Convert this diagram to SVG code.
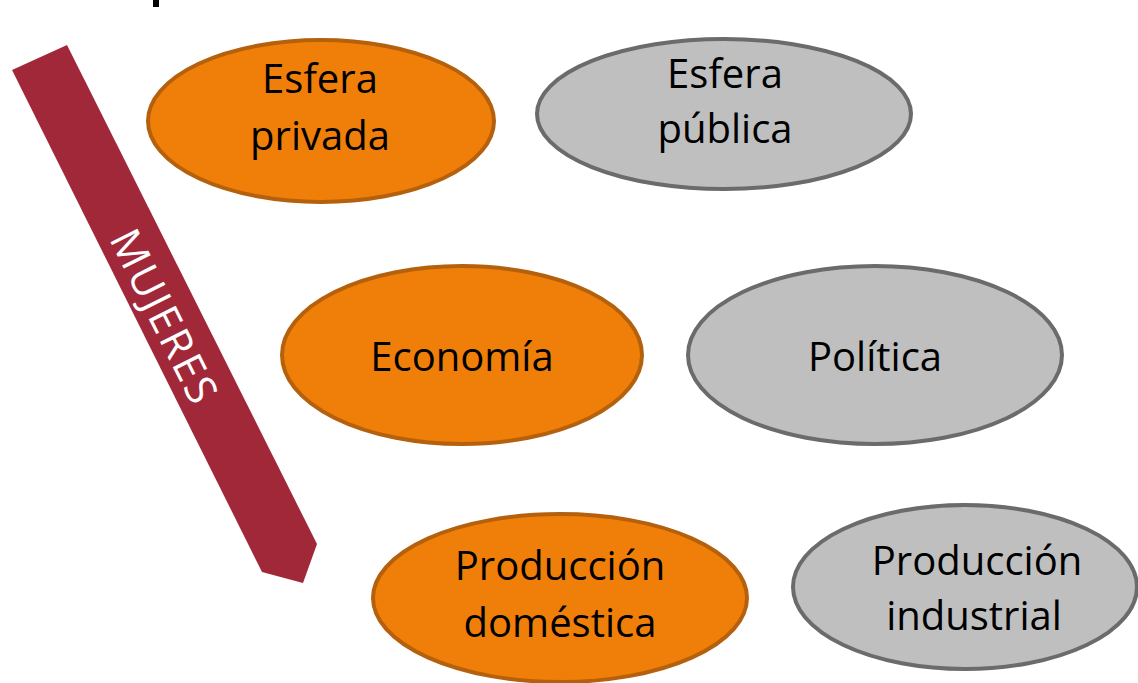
<svg xmlns="http://www.w3.org/2000/svg" width="1138" height="683" viewBox="0 0 1138 683">
<style>
.o{fill:#F07F09;stroke:#B5600C;stroke-width:4}
.g{fill:#BFBFBF;stroke:#6B6B6B;stroke-width:4}
.t{font-family:"Open Sans","Liberation Sans",sans-serif;font-size:40px;fill:#000;text-anchor:middle}
.w{font-family:"Open Sans","Liberation Sans",sans-serif;font-size:42px;fill:#fff;text-anchor:middle}
</style>
<rect width="1138" height="683" fill="#fff"/>
<rect x="153" y="0" width="6" height="7" fill="#000"/>
<g id="mujeres">
<polygon points="12,70 67,45 317,544 303,583 262,572" fill="#A12839"/>
<text class="w" transform="translate(164,316) rotate(63.5)" y="15" textLength="188" lengthAdjust="spacing">MUJERES</text>
</g>
<g id="esfera-privada">
<ellipse class="o" cx="321" cy="121" rx="173" ry="81"/>
<text class="t" x="320" y="93">Esfera</text>
<text class="t" x="320" y="150">privada</text>
</g>
<g id="esfera-publica">
<ellipse class="g" cx="724" cy="114" rx="187" ry="75"/>
<text class="t" x="725" y="88">Esfera</text>
<text class="t" x="725" y="143">pública</text>
</g>
<g id="economia">
<ellipse class="o" cx="462" cy="355" rx="180" ry="89"/>
<text class="t" x="462" y="371">Economía</text>
</g>
<g id="politica">
<ellipse class="g" cx="875" cy="355" rx="187" ry="89"/>
<text class="t" x="875" y="371">Política</text>
</g>
<g id="produccion-domestica">
<ellipse class="o" cx="560" cy="598" rx="187" ry="84"/>
<text class="t" x="560" y="580">Producción</text>
<text class="t" x="560" y="637">doméstica</text>
</g>
<g id="produccion-industrial">
<ellipse class="g" cx="965" cy="587" rx="172" ry="82"/>
<text class="t" x="977" y="575">Producción</text>
<text class="t" x="974" y="630">industrial</text>
</g>
<g id="connectors"></g>
</svg>
